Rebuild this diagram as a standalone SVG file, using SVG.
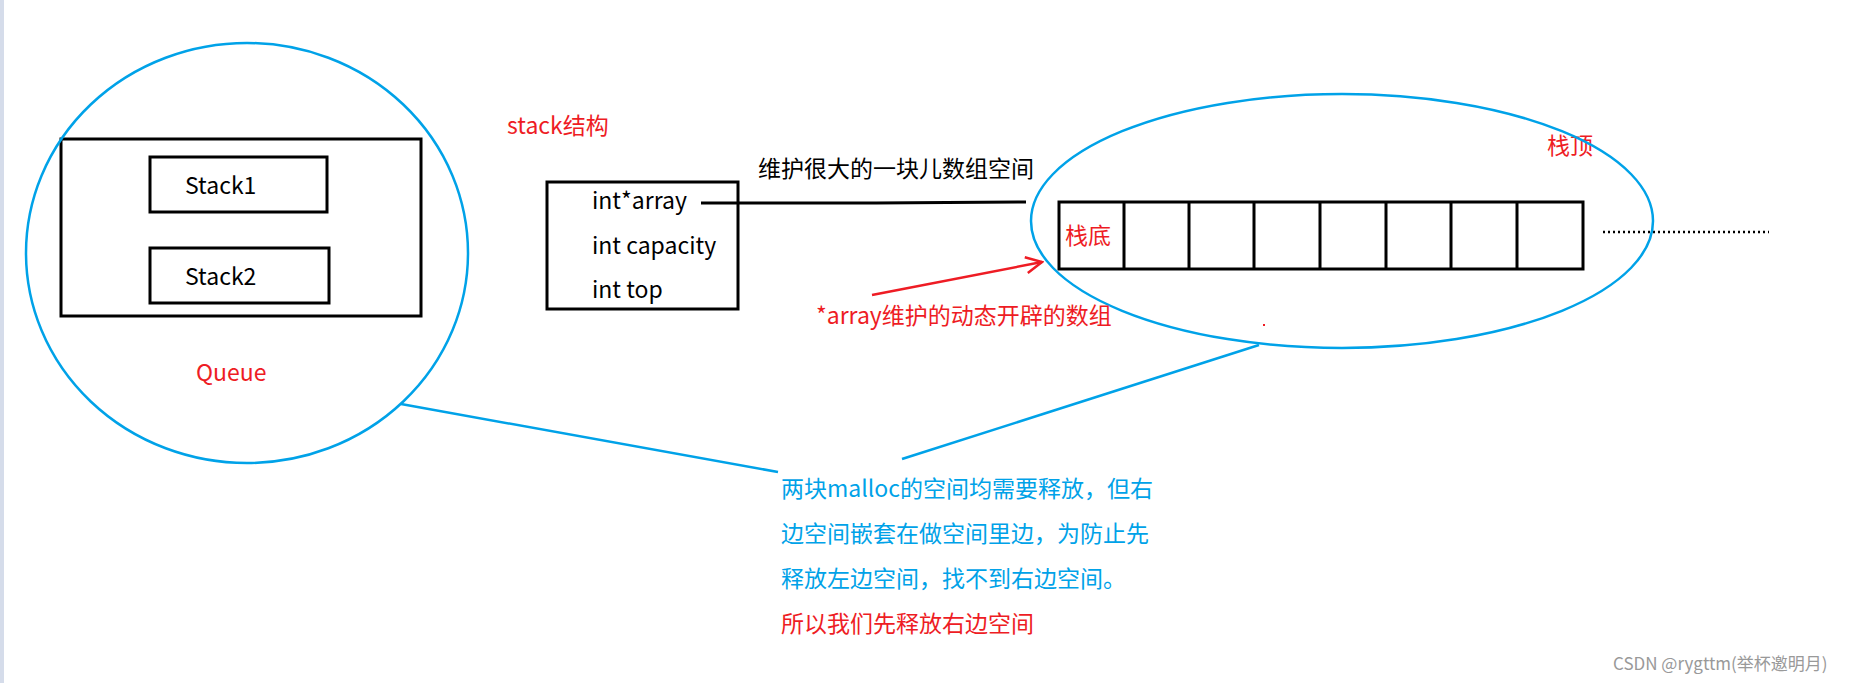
<svg xmlns="http://www.w3.org/2000/svg" width="1849" height="683" viewBox="0 0 1849 683">
<defs>
<style>
text{font-family:"Noto Sans CJK SC","Liberation Sans",sans-serif;font-size:23px}
.k{fill:#000}.r{fill:#ee1c24}.b{fill:#00a2e8}
.box{fill:none;stroke:#000;stroke-width:3}
.ell{fill:none;stroke:#00a2e8;stroke-width:2.5}
</style>
<marker id="ah" viewBox="0 0 20 20" refX="18" refY="10" markerWidth="20" markerHeight="20" markerUnits="userSpaceOnUse" orient="auto"><path d="M2,2 L18,10 L2,18" fill="none" stroke="#ee1c24" stroke-width="2.5"/></marker>
</defs>
<rect width="1849" height="683" fill="#fff"/>
<rect width="4" height="683" fill="#d5dcea"/>
<g id="queue">
<rect class="box" x="61" y="139" width="360" height="177"/>
<text class="r" x="196" y="381">Queue</text>
</g>
<g id="stack1"><rect class="box" x="150" y="157" width="177" height="55"/><text class="k" x="185" y="194">Stack1</text></g>
<g id="stack2"><rect class="box" x="150" y="248" width="179" height="55"/><text class="k" x="185" y="285">Stack2</text></g>
<g id="queue-ellipse"><ellipse class="ell" cx="247" cy="253" rx="221" ry="210"/></g>
<g id="stack-struct">
<text class="r" x="507" y="134">stack结构</text>
<rect class="box" x="547" y="182" width="191" height="127"/>
<text class="k" x="592" y="209">int*array</text>
<text class="k" x="592" y="254">int capacity</text>
<text class="k" x="592" y="298">int top</text>
</g>
<text class="k" x="758" y="177">维护很大的一块儿数组空间</text>
<g id="array">
<rect class="box" x="1059" y="202" width="524" height="67"/>
<path d="M1124,202V269M1189,202V269M1254,202V269M1320,202V269M1386,202V269M1451,202V269M1517,202V269" stroke="#000" stroke-width="3"/>
<text class="r" x="1065" y="244">栈底</text>
<text class="r" x="1547" y="154">栈顶</text>
<path d="M1603,232H1769" stroke="#000" stroke-width="2.5" stroke-dasharray="2,3"/>
</g>
<g id="array-ellipse"><ellipse class="ell" cx="1342" cy="221" rx="311" ry="127"/></g>
<g id="connectors">
<path d="M701,203H876L1026,202" fill="none" stroke="#000" stroke-width="3"/>
<path d="M872,295L1042,262" stroke="#ee1c24" stroke-width="2.5" marker-end="url(#ah)"/>
<path d="M401,404L778,472" stroke="#00a2e8" stroke-width="2.5"/>
<path d="M1259,345L902,459" stroke="#00a2e8" stroke-width="2.5"/>
</g>
<text class="r" x="816" y="324">*array维护的动态开辟的数组</text>
<rect x="1263" y="324" width="2" height="2" fill="#ee1c24"/>
<g id="note">
<text class="b" x="781" y="497">两块malloc的空间均需要释放，但右</text>
<text class="b" x="781" y="542">边空间嵌套在做空间里边，为防止先</text>
<text class="b" x="781" y="587">释放左边空间，找不到右边空间。</text>
<text class="r" x="781" y="632">所以我们先释放右边空间</text>
</g>
<text x="1613" y="670" style="font-size:17px;fill:#999">CSDN @rygttm(举杯邀明月)</text>
</svg>
